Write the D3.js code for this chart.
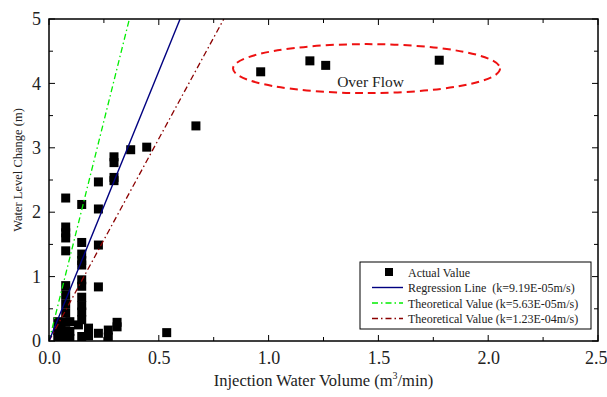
<!DOCTYPE html>
<html lang="en">
<head>
    <meta charset="UTF-8">
    <script src="https://d3js.org/d3.v7.min.js"></script>
    <style>
        body { margin: 0; background: white; }
        svg text { font-family: 'Liberation Serif', 'DejaVu Serif', serif !important; }
        .tick text { font-size: 18px; fill: #222; }
    </style>
</head>
<body>
    <div id="chart"></div>

    <script>
        // actual measured points [volume m3/min, level change m]
        const actualPoints = [
            [0.372, 2.97], [0.445, 3.01], [0.296, 2.86], [0.296, 2.77], [0.296, 2.54], [0.296, 2.49],
            [0.225, 2.47], [0.076, 2.22], [0.149, 2.12], [0.225, 2.05],
            [0.076, 1.77], [0.076, 1.68], [0.076, 1.60], [0.076, 1.40],
            [0.149, 1.53], [0.225, 1.49], [0.149, 1.35], [0.149, 1.25], [0.149, 1.18],
            [0.149, 0.95], [0.149, 0.85], [0.149, 0.68], [0.149, 0.55], [0.149, 0.45],
            [0.149, 0.33], [0.225, 0.84],
            [0.076, 0.86], [0.076, 0.72], [0.076, 0.58], [0.076, 0.44], [0.076, 0.30], [0.076, 0.16], [0.076, 0.05],
            [0.04, 0.30], [0.04, 0.16], [0.04, 0.05], [0.055, 0.22], [0.095, 0.30], [0.095, 0.15], [0.095, 0.04],
            [0.134, 0.25], [0.149, 0.07], [0.18, 0.20], [0.18, 0.08],
            [0.225, 0.12], [0.27, 0.17], [0.27, 0.06], [0.31, 0.29], [0.31, 0.22],
            [0.536, 0.13], [0.669, 3.34],
            [0.964, 4.18], [1.188, 4.35], [1.26, 4.28], [1.777, 4.36]
        ];

        // straight lines given by their end points
        const regressionLine = [[0, 0], [0.597, 5]];
        const theoryLow = [[0, 0], [0.366, 5]];
        const theoryHigh = [[0, 0], [0.796, 5]];

        const legendLabels = [
            "Actual Value",
            "Regression Line  (k=9.19E-05m/s)",
            "Theoretical Value (k=5.63E-05m/s)",
            "Theoretical Value (k=1.23E-04m/s)"
        ];

        const xTicks = [0, 0.5, 1.0, 1.5, 2.0, 2.5];
        const yTicks = [0, 1, 2, 3, 4, 5];

        // over flow ellipse: centre and radii in data units
        const overFlow = { cx: 1.446, cy: 4.23, rx: 0.608, ry: 0.38, label: "Over Flow" };

        const width = 607, height = 397;
        const margin = { top: 19, right: 9, bottom: 56, left: 49 };

        const svg = d3.select("#chart").append("svg")
            .attr("width", width)
            .attr("height", height);

        const x = d3.scaleLinear().domain([0, 2.5]).range([margin.left, width - margin.right]);
        const y = d3.scaleLinear().domain([0, 5]).range([height - margin.bottom, margin.top]);

        const defs = svg.append("defs");
        defs.append("clipPath").attr("id", "plot")
            .append("rect")
            .attr("x", margin.left).attr("y", margin.top)
            .attr("width", x(2.5) - x(0)).attr("height", y(0) - y(5));

        // axes with inward ticks
        function drawAxes() {
            const minorX = d3.range(0, 2.51, 0.25);
            const minorY = d3.range(0, 5.01, 0.5);

            const bottom = svg.append("g").attr("transform", `translate(0,${y(0)})`);
            bottom.call(d3.axisBottom(x).tickValues(xTicks).tickFormat(d3.format(".1f")).tickSize(0).tickPadding(10));
            bottom.selectAll(".minor").data(minorX).enter().append("line")
                .attr("x1", d => x(d)).attr("x2", d => x(d))
                .attr("y1", 0).attr("y2", (d, i) => i % 2 === 0 ? -6 : -4)
                .attr("stroke", "#000");

            const top = svg.append("g");
            top.selectAll("line").data(minorX).enter().append("line")
                .attr("x1", d => x(d)).attr("x2", d => x(d))
                .attr("y1", y(5)).attr("y2", (d, i) => y(5) + (i % 2 === 0 ? 6 : 4))
                .attr("stroke", "#000");

            const left = svg.append("g").attr("transform", `translate(${x(0)},0)`);
            left.call(d3.axisLeft(y).tickValues(yTicks).tickFormat(d3.format("d")).tickSize(0).tickPadding(8));
            left.selectAll(".minor").data(minorY).enter().append("line")
                .attr("y1", d => y(d)).attr("y2", d => y(d))
                .attr("x1", 0).attr("x2", (d, i) => i % 2 === 0 ? 6 : 4)
                .attr("stroke", "#000");

            const right = svg.append("g");
            right.selectAll("line").data(minorY).enter().append("line")
                .attr("y1", d => y(d)).attr("y2", d => y(d))
                .attr("x1", x(2.5)).attr("x2", (d, i) => x(2.5) - (i % 2 === 0 ? 6 : 4))
                .attr("stroke", "#000");

            // keep the last x label inside the window
            bottom.selectAll(".tick text").filter(d => d === 2.5).attr("text-anchor", "end").attr("dx", 9);

            svg.selectAll(".domain").remove();
            svg.append("rect")
                .attr("x", x(0)).attr("y", y(5))
                .attr("width", x(2.5) - x(0)).attr("height", y(0) - y(5))
                .attr("fill", "none").attr("stroke", "#000").attr("stroke-width", 1.5);
        }

        const line = d3.line().x(d => x(d[0])).y(d => y(d[1]));
        const plot = svg.append("g").attr("clip-path", "url(#plot)");

        plot.selectAll(".pt").data(actualPoints).enter().append("rect")
            .attr("x", d => x(d[0]) - 4.5).attr("y", d => y(d[1]) - 4.5)
            .attr("width", 9).attr("height", 9)
            .attr("fill", "#000");

        plot.append("path").datum(theoryLow).attr("d", line)
            .attr("fill", "none").attr("stroke", "#00ee00").attr("stroke-width", 1.3)
            .attr("stroke-dasharray", "6,3,1.5,3");
        plot.append("path").datum(theoryHigh).attr("d", line)
            .attr("fill", "none").attr("stroke", "#8b0000").attr("stroke-width", 1.3)
            .attr("stroke-dasharray", "6,3,1.5,3");
        plot.append("path").datum(regressionLine).attr("d", line)
            .attr("fill", "none").attr("stroke", "#000080").attr("stroke-width", 1.4);

        svg.append("ellipse")
            .attr("cx", x(overFlow.cx)).attr("cy", y(overFlow.cy))
            .attr("rx", x(overFlow.cx + overFlow.rx) - x(overFlow.cx))
            .attr("ry", y(overFlow.cy - overFlow.ry) - y(overFlow.cy))
            .attr("fill", "none").attr("stroke", "#ee1111").attr("stroke-width", 2)
            .attr("stroke-dasharray", "8,5");
        svg.append("text")
            .attr("x", x(overFlow.cx) + 4).attr("y", y(overFlow.cy) + 18.5)
            .attr("text-anchor", "middle").attr("font-size", 15.5).attr("fill", "#222")
            .text(overFlow.label);

        drawAxes();

        // legend
        const lg = svg.append("g").attr("transform", "translate(360,262)");
        lg.append("rect").attr("width", 231).attr("height", 67)
            .attr("fill", "white").attr("stroke", "#000").attr("stroke-width", 1);
        const styles = [
            null,
            { c: "#000080", d: null },
            { c: "#00ee00", d: "6,3,1.5,3" },
            { c: "#8b0000", d: "6,3,1.5,3" }
        ];
        legendLabels.forEach((t, i) => {
            const cy = 10 + i * 15.5;
            if (i === 0) {
                lg.append("rect").attr("x", 25).attr("y", cy - 4).attr("width", 8).attr("height", 8).attr("fill", "#000");
            } else {
                lg.append("line").attr("x1", 12).attr("x2", 43).attr("y1", cy).attr("y2", cy)
                    .attr("stroke", styles[i].c).attr("stroke-width", 1.4)
                    .attr("stroke-dasharray", styles[i].d);
            }
            lg.append("text").attr("x", 48).attr("y", cy + 4.5)
                .attr("font-size", 12).attr("fill", "#222")
                .attr("xml:space", "preserve")
                .text(t);
        });

        // axis titles
        const xt = svg.append("text")
            .attr("x", (x(0) + x(2.5)) / 2).attr("y", 386)
            .attr("text-anchor", "middle").attr("font-size", 16.5).attr("fill", "#222");
        xt.append("tspan").text("Injection Water Volume (m");
        xt.append("tspan").attr("font-size", 10).attr("dy", -7).text("3");
        xt.append("tspan").attr("dy", 7).text("/min)");

        svg.append("text")
            .attr("transform", "translate(22,170) rotate(-90)")
            .attr("text-anchor", "middle").attr("font-size", 12.5).attr("fill", "#222")
            .text("Water Level Change (m)");
    </script>
</body>
</html>
